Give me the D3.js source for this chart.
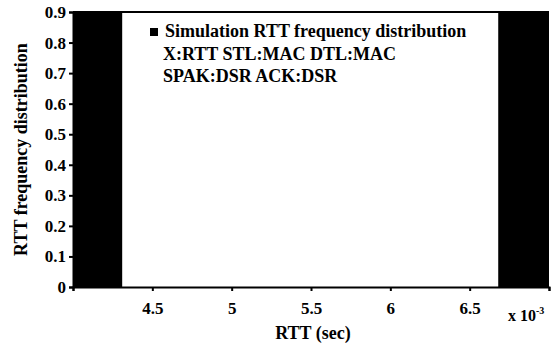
<!DOCTYPE html>
<html>
<head>
<meta charset="utf-8">
<script src="https://cdn.jsdelivr.net/npm/d3@7"></script>
<style>
  body { margin: 0; background: #fff; }
</style>
</head>
<body>
<div id="chart"></div>
<script>
// histogram bins (x in units of 1e-3 sec), heights run past the top of the axis
const binStart = [4.0, 6.68];
const binEnd = [4.31, 7.0];
const binFreq = [0.95, 0.95];

const xTicks = [4, 4.5, 5, 5.5, 6, 6.5, 7];
const xTickLabels = ["", "4.5", "5", "5.5", "6", "6.5", ""];
const yTicks = [0, 0.1, 0.2, 0.3, 0.4, 0.5, 0.6, 0.7, 0.8, 0.9];

const legendLines = [
  "Simulation RTT frequency distribution",
  "X:RTT STL:MAC DTL:MAC",
  "SPAK:DSR ACK:DSR"
];

const FONT = "'Liberation Serif', 'Times New Roman', serif";

const width = 557, height = 349;
const margin = { top: 12, right: 8, bottom: 62, left: 73 };

const svg = d3.select("#chart").append("svg")
    .attr("width", width)
    .attr("height", height);

const x = d3.scaleLinear().domain([4, 7]).range([margin.left, width - margin.right]);
const y = d3.scaleLinear().domain([0, 0.9]).range([height - margin.bottom, margin.top]);

svg.append("clipPath").attr("id", "plot")
  .append("rect")
    .attr("x", margin.left).attr("y", margin.top - 1)
    .attr("width", x(7) - x(4)).attr("height", y(0) - y(0.9) + 1);

// bars
svg.append("g").attr("clip-path", "url(#plot)")
  .selectAll("rect")
  .data(binStart)
  .enter()
  .append("rect")
    .attr("x", (d, i) => x(d))
    .attr("width", (d, i) => x(binEnd[i]) - x(d))
    .attr("y", (d, i) => y(binFreq[i]))
    .attr("height", (d, i) => y(0) - y(binFreq[i]))
    .attr("fill", "#000");

// top border
svg.append("line")
    .attr("x1", x(4)).attr("x2", x(7))
    .attr("y1", y(0.9)).attr("y2", y(0.9))
    .attr("stroke", "#000").attr("stroke-width", 2);

// x axis
const xAxis = svg.append("g")
    .attr("transform", `translate(0,${y(0)})`)
    .call(d3.axisBottom(x).tickValues(xTicks).tickFormat((d, i) => xTickLabels[i]).tickSizeOuter(0).tickSize(4).tickPadding(11));
xAxis.attr("font-family", null).attr("font-size", null);
xAxis.select(".domain").attr("stroke-width", 2);
xAxis.selectAll("line").attr("stroke-width", 2);
xAxis.selectAll("text").attr("style", `font-family:${FONT};font-size:17px;font-weight:bold`);

// y axis
const yAxis = svg.append("g")
    .attr("transform", `translate(${x(4)},0)`)
    .call(d3.axisLeft(y).tickValues(yTicks).tickFormat(d => d === 0 ? "0" : d3.format(".1f")(d)).tickSizeOuter(0).tickSize(4).tickPadding(3));
yAxis.attr("font-family", null).attr("font-size", null);
yAxis.select(".domain").attr("stroke-width", 2);
yAxis.selectAll("line").attr("stroke-width", 2);
yAxis.selectAll("text").attr("style", `font-family:${FONT};font-size:17px;font-weight:bold`);

// axis labels
svg.append("text")
    .attr("x", 313)
    .attr("y", 339)
    .attr("text-anchor", "middle")
    .attr("style", `font-family:${FONT};font-size:18px;font-weight:bold`)
    .text("RTT (sec)");

svg.append("text")
    .attr("transform", `translate(27,${(y(0) + y(0.9)) / 2}) rotate(-90)`)
    .attr("text-anchor", "middle")
    .attr("style", `font-family:${FONT};font-size:18px;font-weight:bold`)
    .text("RTT frequency distribution");

const mult = svg.append("text")
    .attr("x", 508)
    .attr("y", 321)
    .attr("style", `font-family:${FONT};font-size:16px;font-weight:bold`);
mult.append("tspan").text("x 10");
mult.append("tspan").attr("dy", -7).style("font-size", "10px").text("-3");

// legend
svg.append("rect")
    .attr("x", 150).attr("y", 28)
    .attr("width", 8).attr("height", 8)
    .attr("fill", "#000");

svg.append("g").selectAll("text")
  .data(legendLines)
  .enter()
  .append("text")
    .attr("x", (d, i) => i === 0 ? 165 : 163)
    .attr("y", (d, i) => 37 + i * 22.5)
    .attr("style", `font-family:${FONT};font-size:18px;font-weight:bold`)
    .text(d => d);
</script>
</body>
</html>
